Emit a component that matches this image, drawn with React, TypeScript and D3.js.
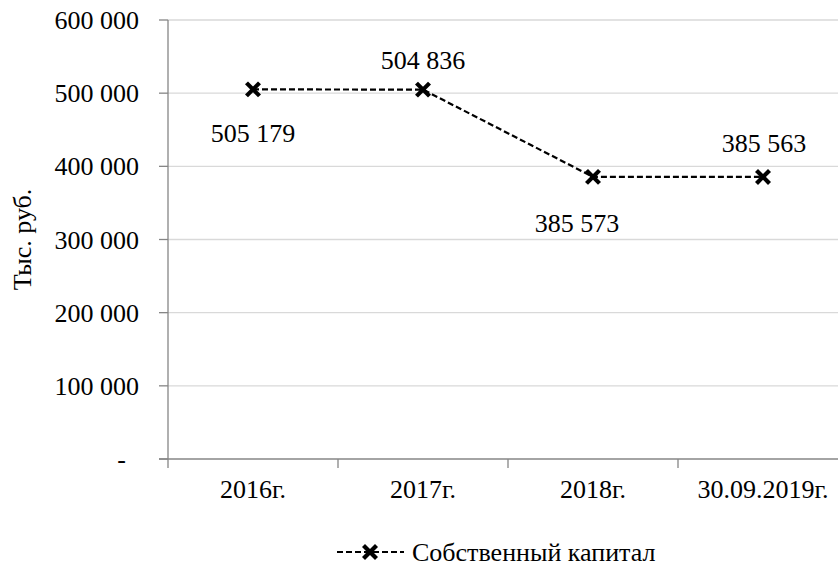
import React from "react";
import * as d3 from "d3";

const categories = ["2016г.", "2017г.", "2018г.", "30.09.2019г."];
const values = [505179, 504836, 385573, 385563];
const valueLabels = ["505 179", "504 836", "385 573", "385 563"];
const yTicks = [0, 100000, 200000, 300000, 400000, 500000, 600000];
const yTickLabels = ["-\u00a0\u00a0", "100 000", "200 000", "300 000", "400 000", "500 000", "600 000"];
const seriesName = "Собственный капитал";
const yTitle = "Тыс. руб.";

const W = 838;
const H = 567;
const left = 168;
const right = 848;
const top = 20;
const bottom = 459;
const FONT = "Liberation Serif";
const FS = 26;

function Cross({ x, y, s = 6.5 }: { x: number; y: number; s?: number }) {
  return (
    <g stroke="#000" strokeWidth={4.2} strokeLinecap="butt">
      <line x1={x - s} y1={y - s} x2={x + s} y2={y + s} />
      <line x1={x - s} y1={y + s} x2={x + s} y2={y - s} />
    </g>
  );
}

const ts = { fontFamily: FONT, fontSize: FS };

function T({ x, y, anchor = "start", children, rotate = false }: { x: number; y: number; anchor?: string; children: React.ReactNode; rotate?: boolean }) {
  const tr = rotate ? `translate(${x},${y}) rotate(-90)` : `translate(${x},${y})`;
  return (
    <text transform={tr} dy="0.35em" textAnchor={anchor} style={ts} fill="#000">
      {children}
    </text>
  );
}

export default function App() {
  const x = d3.scaleBand<string>().domain(categories).range([left, right]).padding(0);
  const y = d3.scaleLinear().domain([0, 600000]).range([bottom, top]);
  const cx = (c: string) => (x(c) as number) + x.bandwidth() / 2;
  const line = d3
    .line<number>()
    .x((_, i) => cx(categories[i]))
    .y((d) => y(d));

  const labelOffsets = [
    { dx: 0, dy: 44 },
    { dx: 0, dy: -30 },
    { dx: -16, dy: 46 },
    { dx: 1, dy: -34 },
  ];

  return (
    <svg width={W} height={H} style={{ position: "absolute", left: 0, top: 0, background: "#fff" }}>
      {yTicks.slice(1).map((t) => (
        <line key={t} x1={left} x2={right} y1={y(t)} y2={y(t)} stroke="#d9d9d9" strokeWidth={1.3} />
      ))}
      <line x1={left} x2={left} y1={top} y2={bottom} stroke="#868686" strokeWidth={1.3} />
      {yTicks.map((t) => (
        <line key={"yt" + t} x1={left - 9} x2={left} y1={y(t)} y2={y(t)} stroke="#868686" strokeWidth={1.3} />
      ))}
      <line x1={left - 9} x2={right} y1={bottom} y2={bottom} stroke="#868686" strokeWidth={1.3} />
      {categories.map((c) => (
        <line key={"xt" + c} x1={x(c) as number} x2={x(c) as number} y1={bottom} y2={bottom + 9} stroke="#868686" strokeWidth={1.3} />
      ))}
      {yTicks.map((t, i) => (
        <T key={"yl" + t} x={139} y={y(t)} anchor="end">
          {yTickLabels[i]}
        </T>
      ))}
      {categories.map((c) => (
        <T key={"xl" + c} x={cx(c)} y={489} anchor="middle">
          {c}
        </T>
      ))}
      <T x={22} y={(top + bottom) / 2} anchor="middle" rotate>
        {yTitle}
      </T>
      <path d={line(values) || ""} fill="none" stroke="#000" strokeWidth={2.2} strokeDasharray="6 3" />
      {values.map((v, i) => (
        <Cross key={"m" + i} x={cx(categories[i])} y={y(v)} />
      ))}
      {values.map((v, i) => (
        <T key={"vl" + i} x={cx(categories[i]) + labelOffsets[i].dx} y={y(v) + labelOffsets[i].dy} anchor="middle">
          {valueLabels[i]}
        </T>
      ))}
      <line x1={337} x2={404} y1={552} y2={552} stroke="#000" strokeWidth={2.2} strokeDasharray="6 3" />
      <Cross x={370} y={552} />
      <T x={412} y={552}>
        {seriesName}
      </T>
    </svg>
  );
}
